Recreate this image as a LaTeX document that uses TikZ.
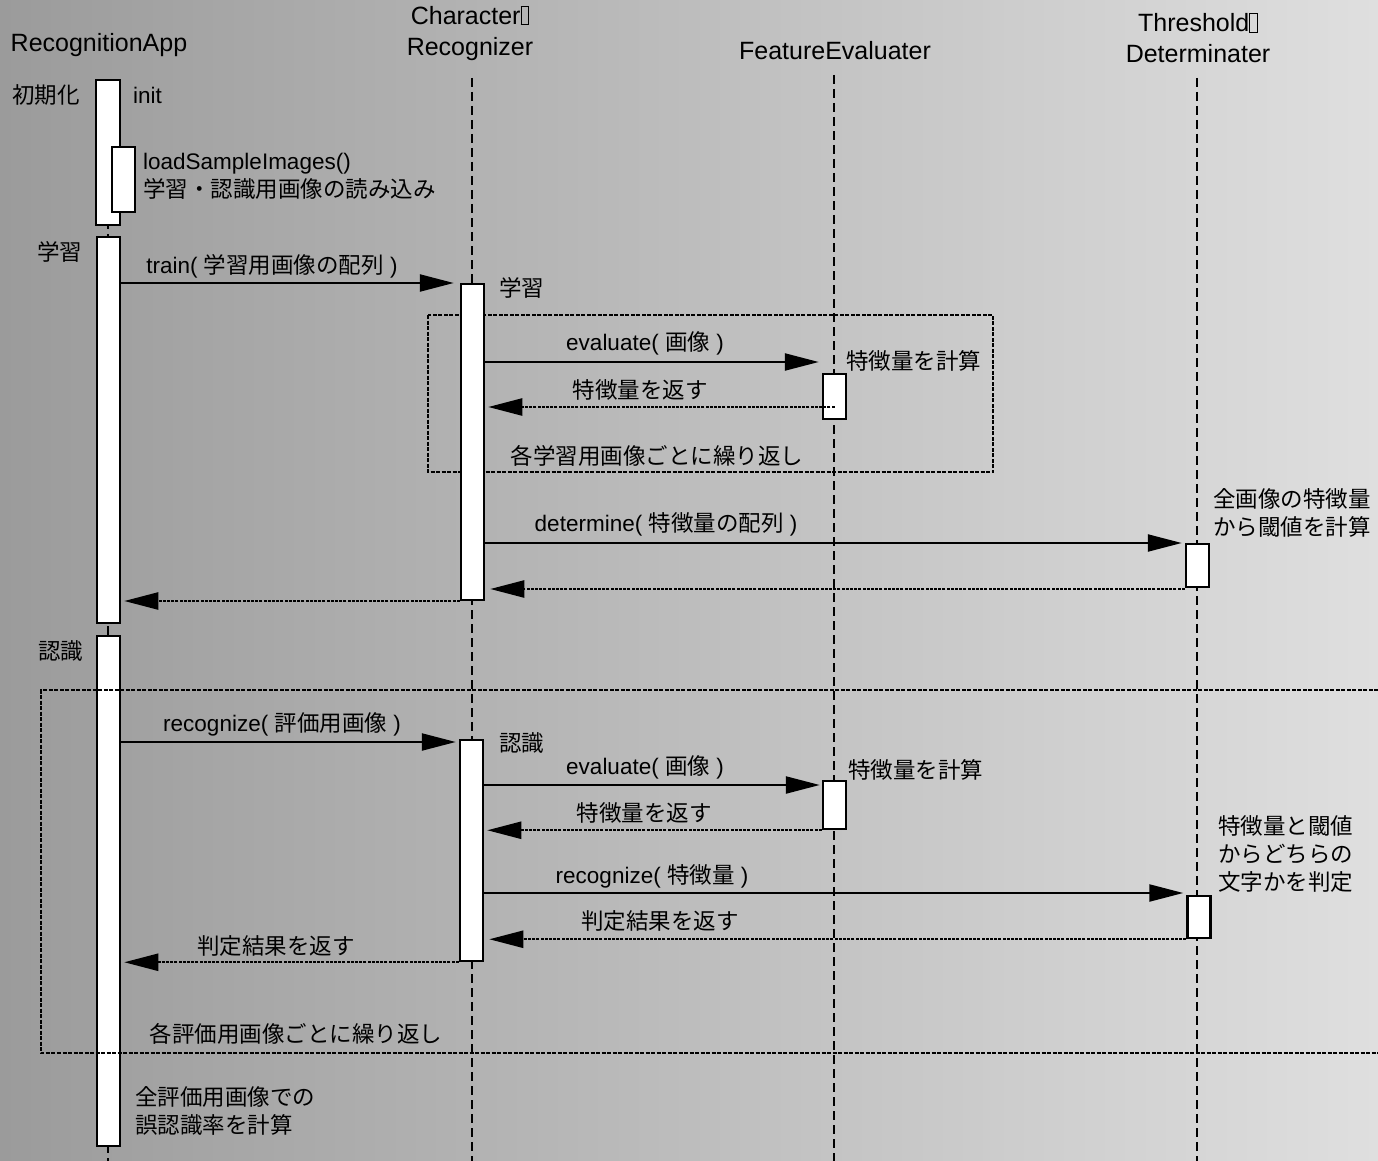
\documentclass[tikz,border=0pt]{standalone}
\usepackage{fontspec}
\setmainfont{Liberation Sans}
\newfontfamily\jpfont{Noto Sans CJK JP}
\usetikzlibrary{arrows.meta}
\newcommand\jtext[1]{{\jpfont #1}}
% placeholder glyph box printed after the first line of two header names
\newcommand\tofu{{\setlength\fboxsep{0pt}\setlength\fboxrule{0.8pt}\fbox{\rule{0pt}{0.72em}\hspace{0.28em}}}}
\definecolor{bgleft}{RGB}{155,155,155}
\definecolor{bgright}{RGB}{223,223,223}

\begin{document}
\begin{tikzpicture}[x=1pt,y=-1pt,
  every node/.style={inner sep=0pt, font=\fontsize{22.5}{28}\selectfont},
  head/.style={font=\fontsize{25}{31}\selectfont, align=center},
  life/.style={line width=2.6pt, dash pattern=on 9pt off 5pt},
  act/.style={draw, line width=2.5pt, fill=white, minimum width=23pt, rectangle},
  tip/.style={-{Triangle[length=34pt,width=17pt]}},
  call/.style={line width=2.3pt, tip},
  reply/.style={line width=2.4pt, dash pattern=on 3pt off 1.2pt, tip},
  loopframe/.style={line width=2.3pt, dash pattern=on 4pt off 1.5pt},
  jp/.style={font=\fontsize{22.5}{28}\selectfont\jpfont},
  note/.style={jp, anchor=west, align=left},
]
\useasboundingbox (0,0) rectangle (1378,1161);
\clip (0,0) rectangle (1378,1161);
\shade[left color=bgleft, right color=bgright] (0,0) rectangle (1378,1161);

% participants
\node[head] (pApp) at (99,45) {RecognitionApp};
\node[head] (pChr) at (470,33) {Character\tofu\\Recognizer};
\node[head] (pFea) at (835,51) {FeatureEvaluater};
\node[head] (pThr) at (1198,38) {Threshold\tofu\\Determinater};

% lifelines
\coordinate (eApp) at (108,1161);
\coordinate (eChr) at (472,1161);
\coordinate (eFea) at (834,1161);
\coordinate (eThr) at (1197,1161);
\draw[life] (108,80) -- (eApp);
\draw[life] (472,78) -- (eChr);
\draw[life] (834,75) -- (eFea);
\draw[life] (1197,78) -- (eThr);

% loop over the training images
\draw[loopframe] (428,315) rectangle (993,472);

% activations
\node[act, minimum width=24pt, minimum height=145pt] (a0) at (108,152.5) {};
\node[act, minimum height=65pt] (a0b) at (123.5,179.5) {};
\node[act, minimum height=386pt] (a1) at (108.5,430) {};
\node[act, minimum height=510pt] (a2) at (108.5,891) {};
\node[act, minimum height=316pt] (c1) at (472.5,442) {};
\node[act, minimum height=221pt] (c2) at (471.5,850.5) {};
\node[act, minimum height=45pt] (f1) at (834.5,396.5) {};
\node[act, minimum height=48pt] (f2) at (834.5,805) {};
\node[act, minimum height=43pt] (t1) at (1197.5,565.5) {};
\node[act, minimum height=42pt] (t2) at (1199,917) {};

% loop over the evaluation images
\draw[loopframe] (1400,690) -- (41,690) -- (41,1053) -- (1400,1053);

% activation notes
\node[note] (nInit) at (12,95) {初期化};
\node[anchor=west] (lInit) at (133,95) {init};
\node[anchor=west, align=left] (lLoad) at (143,176.5) {loadSampleImages()\\\jtext{学習・認識用画像の読み込み}};
\node[note] (nTrain) at (37,252) {学習};
\node[note] (nRec) at (38,651) {認識};
\node[note] (nTrainC) at (499,288) {学習};
\node[note] (nRecC) at (499,743) {認識};
\node[note] (nFea1) at (846,361) {特徴量を計算};
\node[note] (nFea2) at (848,770) {特徴量を計算};
\node[note] (nThr1) at (1213,512.5) {全画像の特徴量\\から閾値を計算};
\node[note] (nThr2) at (1218,853.5) {特徴量と閾値\\からどちらの\\文字かを判定};
\node[note] (nRate) at (135,1111) {全評価用画像での\\誤認識率を計算};

% training phase messages
\draw[call, shorten >=6pt] (a1.east |- 0,283) -- (c1.west |- 0,283);
\node (l1) at (272,266) {train( \jtext{学習用画像の配列} )};
\draw[call, shorten >=3pt] (c1.east |- 0,362) -- (f1.west |- 0,362);
\node (l2) at (645,343) {evaluate( \jtext{画像} )};
\draw[reply, shorten >=3pt] (f1.center |- 0,407) -- (c1.east |- 0,407);
\node[jp] (l3) at (640,390) {特徴量を返す};
\node[jp] (l4) at (657,456) {各学習用画像ごとに繰り返し};
\draw[call, shorten >=3pt] (c1.east |- 0,543) -- (t1.west |- 0,543);
\node (l5) at (666,524) {determine( \jtext{特徴量の配列} )};
\draw[reply, shorten >=5pt] (t1.west |- 0,589) -- (c1.east |- 0,589);
\draw[reply, shorten >=3pt] (c1.west |- 0,601) -- (a1.east |- 0,601);

% recognition phase messages
\draw[call, shorten >=3pt] (a2.east |- 0,742) -- (c2.west |- 0,742);
\node (l6) at (282,724) {recognize( \jtext{評価用画像} )};
\draw[call, shorten >=2pt] (c2.east |- 0,785) -- (f2.west |- 0,785);
\node (l7) at (645,767) {evaluate( \jtext{画像} )};
\draw[reply, shorten >=3pt] (f2.south west) -- (c2.east |- f2.south west);
\node[jp] (l8) at (644,813) {特徴量を返す};
\draw[call, shorten >=3pt] (c2.east |- 0,893) -- (t2.west |- 0,893);
\node (l9) at (652,876) {recognize( \jtext{特徴量} )};
\draw[reply, shorten >=5pt] (t2.south west) -- (c2.east |- t2.south west);
\node[jp] (l10) at (660,921) {判定結果を返す};
\draw[reply, shorten >=3pt] (c2.south west) -- (a2.east |- c2.south west);
\node[jp] (l11) at (276,946) {判定結果を返す};
\node[jp] (l12) at (296,1034) {各評価用画像ごとに繰り返し};
\end{tikzpicture}
\end{document}
